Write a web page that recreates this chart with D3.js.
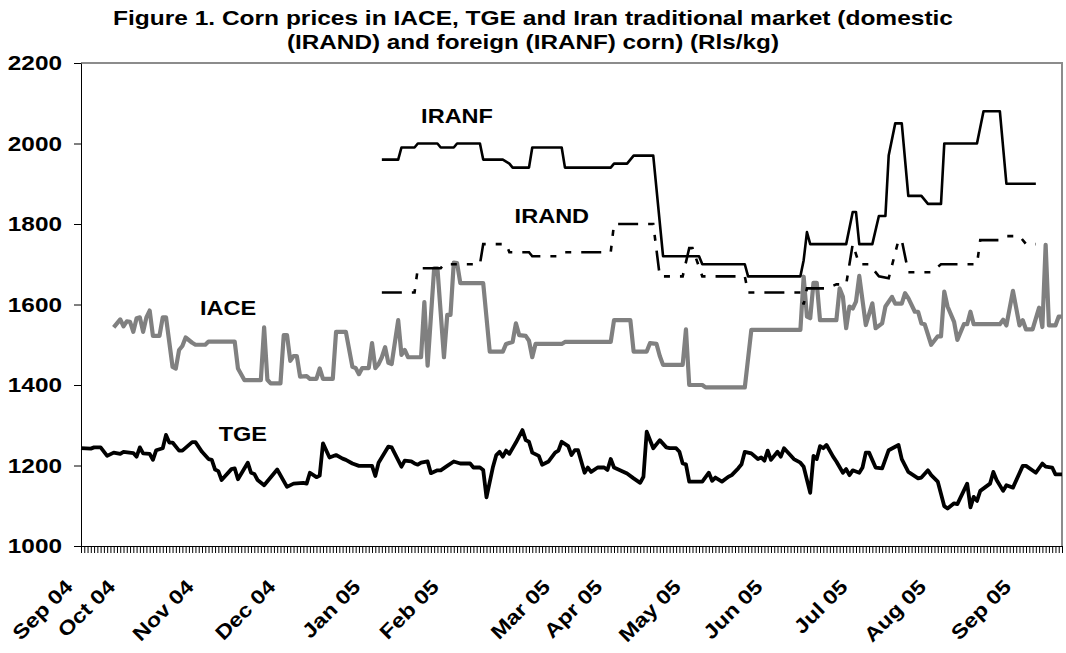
<!DOCTYPE html>
<html>
<head>
<meta charset="utf-8">
<script src="https://cdn.jsdelivr.net/npm/d3@7/dist/d3.min.js"></script>
<style>
    body { margin: 0; background: #fff; }
    text { font-family: "Liberation Sans", Arial, sans-serif; font-weight: bold; fill: #000; }
</style>
</head>
<body>
<svg width="1066" height="653"></svg>
<script>
// titulo
const titleLines = [
    "Figure 1. Corn prices in IACE, TGE and Iran traditional market (domestic",
    "(IRAND) and foreign (IRANF) corn) (Rls/kg)"
];

// eje y
const yTicks = [1000, 1200, 1400, 1600, 1800, 2000, 2200];

// etiquetas de meses (indice del dia de mercado)
const monthLabels = ["Sep 04", "Oct 04", "Nov 04", "Dec 04", "Jan 05", "Feb 05", "Mar 05",
    "Apr 05", "May 05", "Jun 05", "Jul 05", "Aug 05", "Sep 05"];
const monthIdx = [0, 13, 37, 62, 88, 112, 146, 162, 186, 211, 237, 261, 287];
const nDays = 300;

// series [dia, precio]
const tge = [[0,1243],[3,1242],[4,1245],[6,1245],[8,1224],[10,1232],[12,1229],[13,1234],[16,1231],[17,1222],[18,1245],[19,1230],[21,1229],[22,1214],[23,1238],[25,1243],[26,1276],[27,1257],[28,1257],[30,1237],[31,1237],[34,1258],[35,1258],[37,1234],[39,1216],[40,1214],[41,1190],[42,1186],[43,1164],[46,1191],[47,1193],[48,1166],[51,1207],[52,1182],[53,1179],[54,1164],[56,1151],[60,1190],[63,1147],[65,1155],[68,1157],[69,1155],[70,1182],[72,1171],[73,1175],[74,1255],[76,1220],[78,1226],[80,1217],[81,1214],[83,1205],[85,1199],[89,1199],[90,1174],[91,1207],[94,1247],[95,1245],[98,1197],[99,1212],[101,1210],[102,1205],[103,1202],[104,1207],[106,1210],[107,1181],[109,1188],[110,1188],[112,1199],[114,1210],[116,1205],[119,1205],[120,1195],[122,1195],[123,1189],[124,1121],[126,1197],[127,1226],[128,1234],[129,1222],[130,1237],[131,1229],[133,1257],[135,1288],[136,1263],[137,1259],[138,1232],[140,1224],[141,1202],[143,1210],[145,1232],[146,1237],[147,1259],[149,1248],[150,1226],[151,1238],[152,1238],[154,1182],[155,1195],[156,1184],[158,1195],[160,1195],[161,1189],[162,1216],[163,1195],[166,1184],[167,1180],[169,1168],[171,1157],[172,1172],[173,1284],[175,1243],[177,1263],[179,1245],[180,1243],[182,1243],[183,1234],[184,1205],[185,1203],[186,1160],[190,1160],[192,1182],[193,1162],[194,1170],[196,1160],[198,1172],[199,1176],[201,1193],[202,1203],[203,1234],[205,1230],[207,1216],[208,1220],[209,1212],[210,1237],[211,1214],[213,1234],[214,1222],[215,1243],[218,1216],[220,1207],[221,1197],[223,1132],[224,1224],[225,1216],[226,1248],[227,1243],[228,1251],[230,1222],[231,1210],[233,1182],[234,1191],[235,1176],[236,1188],[238,1182],[239,1195],[240,1232],[241,1232],[243,1195],[245,1193],[247,1238],[250,1251],[251,1216],[253,1184],[256,1168],[257,1170],[259,1188],[260,1176],[262,1160],[264,1099],[265,1093],[267,1106],[268,1104],[271,1155],[272,1096],[273,1122],[274,1112],[275,1137],[278,1155],[279,1184],[280,1164],[282,1137],[283,1151],[285,1145],[288,1199],[289,1199],[292,1182],[294,1205],[295,1197],[297,1195],[298,1178],[300,1178]];

const iace = [[10,1543],[12,1563],[13,1546],[14,1558],[15,1557],[16,1532],[17,1566],[18,1568],[19,1532],[20,1568],[21,1585],[22,1522],[24,1522],[25,1568],[26,1568],[28,1445],[29,1441],[30,1487],[31,1497],[32,1518],[34,1505],[35,1500],[38,1500],[39,1508],[47,1508],[48,1441],[50,1412],[55,1412],[56,1543],[57,1413],[58,1404],[61,1404],[62,1524],[63,1524],[64,1460],[65,1472],[66,1472],[67,1421],[69,1422],[70,1415],[72,1415],[73,1441],[74,1415],[77,1415],[78,1532],[81,1532],[83,1445],[84,1442],[85,1427],[86,1442],[88,1442],[89,1504],[90,1442],[91,1452],[92,1469],[93,1494],[94,1455],[95,1452],[97,1561],[98,1475],[99,1487],[100,1469],[104,1469],[105,1606],[106,1448],[108,1690],[109,1690],[111,1469],[112,1574],[113,1574],[114,1704],[115,1703],[116,1653],[123,1653],[125,1483],[129,1483],[130,1502],[132,1507],[133,1553],[134,1524],[136,1522],[137,1510],[138,1469],[139,1502],[147,1502],[148,1507],[162,1507],[163,1561],[168,1561],[169,1483],[173,1483],[174,1504],[176,1502],[177,1472],[178,1450],[184,1450],[185,1538],[186,1400],[190,1400],[191,1394],[203,1394],[205,1537],[220,1537],[221,1669],[222,1570],[223,1566],[224,1654],[225,1654],[226,1561],[231,1561],[232,1640],[233,1619],[234,1541],[235,1595],[236,1590],[237,1607],[238,1671],[240,1549],[242,1603],[243,1541],[245,1553],[246,1595],[248,1619],[249,1602],[251,1602],[252,1628],[253,1616],[255,1582],[256,1582],[257,1553],[258,1551],[260,1500],[262,1521],[263,1521],[264,1632],[265,1595],[267,1557],[268,1512],[270,1551],[271,1551],[272,1582],[273,1551],[281,1551],[282,1562],[283,1548],[285,1634],[287,1548],[288,1561],[289,1538],[291,1538],[293,1592],[294,1544],[295,1748],[296,1548],[298,1548],[299,1570],[300,1570]];

const iranf = [[92,1960],[97,1960],[98,1990],[102,1990],[103,2000],[109,2000],[110,1990],[114,1990],[115,2000],[122,2000],[123,1960],[129,1960],[131,1950],[132,1940],[137,1940],[138,1990],[147,1990],[148,1940],[162,1940],[163,1950],[167,1950],[169,1970],[175,1970],[178,1720],[189,1720],[190,1700],[203,1700],[204,1670],[220,1670],[221,1710],[222,1780],[223,1750],[234,1750],[236,1830],[237,1830],[238,1750],[242,1750],[244,1820],[246,1820],[247,1970],[249,2050],[251,2050],[253,1870],[257,1870],[259,1850],[263,1850],[264,2000],[274,2000],[276,2080],[281,2080],[283,1900],[292,1900]];

const irand = [[92,1630],[102,1630],[103,1690],[110,1690],[111,1700],[122,1700],[123,1750],[130,1750],[131,1730],[137,1730],[138,1720],[146,1720],[148,1730],[162,1730],[163,1800],[175,1800],[177,1670],[184,1670],[186,1740],[187,1740],[190,1670],[203,1670],[204,1630],[220,1630],[221,1600],[222,1640],[228,1640],[231,1650],[234,1650],[236,1750],[238,1700],[241,1700],[244,1670],[247,1665],[250,1760],[251,1760],[253,1680],[260,1680],[263,1700],[274,1700],[275,1760],[281,1760],[283,1770],[287,1770],[289,1750],[292,1750]];

const seriesNames = ["IRANF", "IRAND", "IACE", "TGE"];

const svg = d3.select("svg");
const mLeft = 81, mRight = 1062, mTop = 63, mBottom = 546;

const x = d3.scaleLinear().domain([0, nDays]).range([mLeft, mRight]);
const y = d3.scaleLinear().domain([1000, 2200]).range([mBottom, mTop]);

// el texto del original esta estirado a lo ancho
function stretch(sel, k) {
    sel.each(function () {
        const w = this.getComputedTextLength();
        d3.select(this).attr("textLength", w * k).attr("lengthAdjust", "spacingAndGlyphs");
    });
}

// marco gris arriba y a la derecha
svg.append("path")
    .attr("d", `M${mLeft},${mTop}H${mRight}V${mBottom}`)
    .attr("fill", "none")
    .attr("stroke", "#8c8c8c")
    .attr("stroke-width", 2);

// eje x con un tick por dia
const xAxis = d3.axisBottom(x)
    .tickValues(d3.range(0, nDays + 1))
    .tickFormat("")
    .tickSize(7)
    .tickSizeOuter(0);
svg.append("g")
    .attr("transform", `translate(0,${mBottom})`)
    .call(xAxis)
    .call(g => g.selectAll("line, path").attr("stroke", "#000"));

svg.append("g")
    .selectAll("text")
    .data(monthLabels)
    .enter()
    .append("text")
    .attr("transform", (d, i) => `translate(${x(monthIdx[i]) - 7},588) rotate(-45)`)
    .attr("text-anchor", "end")
    .style("font-size", "20px")
    .text(d => d)
    .call(stretch, 1.17);

// eje y
const yAxis = d3.axisLeft(y)
    .tickValues(yTicks)
    .tickFormat(d3.format("d"))
    .tickSize(7)
    .tickSizeOuter(0)
    .tickPadding(12);
svg.append("g")
    .attr("transform", `translate(${mLeft},0)`)
    .call(yAxis)
    .call(g => g.selectAll("line, path").attr("stroke", "#000"))
    .call(g => g.selectAll("text")
        .style("font-size", "21px")
        .style("font-family", "Liberation Sans, Arial, sans-serif")
        .style("font-weight", "bold")
        .attr("fill", "#000")
        .call(stretch, 1.16));

// lineas
const line = d3.line().x(d => x(d[0])).y(d => y(d[1]));

svg.append("path").datum(iace)
    .attr("d", line).attr("fill", "none")
    .attr("stroke", "#808080").attr("stroke-width", 4.2).attr("stroke-linejoin", "round");

svg.append("path").datum(tge)
    .attr("d", line).attr("fill", "none")
    .attr("stroke", "#000").attr("stroke-width", 3.8).attr("stroke-linejoin", "round");

svg.append("path").datum(irand)
    .attr("d", line).attr("fill", "none")
    .attr("stroke", "#000").attr("stroke-width", 2.6)
    .attr("stroke-dasharray", "20,10,6,10,6,10");

svg.append("path").datum(iranf)
    .attr("d", line).attr("fill", "none")
    .attr("stroke", "#000").attr("stroke-width", 2.6).attr("stroke-linejoin", "round");

// nombres de series
const labelPos = [[115, 2050], [144, 1802], [45, 1574], [49.5, 1261]];
svg.append("g")
    .selectAll("text")
    .data(seriesNames)
    .enter()
    .append("text")
    .attr("x", (d, i) => x(labelPos[i][0]))
    .attr("y", (d, i) => y(labelPos[i][1]))
    .attr("text-anchor", "middle")
    .style("font-size", "21px")
    .text(d => d)
    .call(stretch, 1.12);

// titulo
const titleWidth = [840, 492];
svg.append("g")
    .selectAll("text")
    .data(titleLines)
    .enter()
    .append("text")
    .attr("x", 533)
    .attr("y", (d, i) => 25 + i * 24)
    .attr("text-anchor", "middle")
    .style("font-size", "20px")
    .attr("textLength", (d, i) => titleWidth[i])
    .attr("lengthAdjust", "spacingAndGlyphs")
    .text(d => d);
</script>
</body>
</html>
